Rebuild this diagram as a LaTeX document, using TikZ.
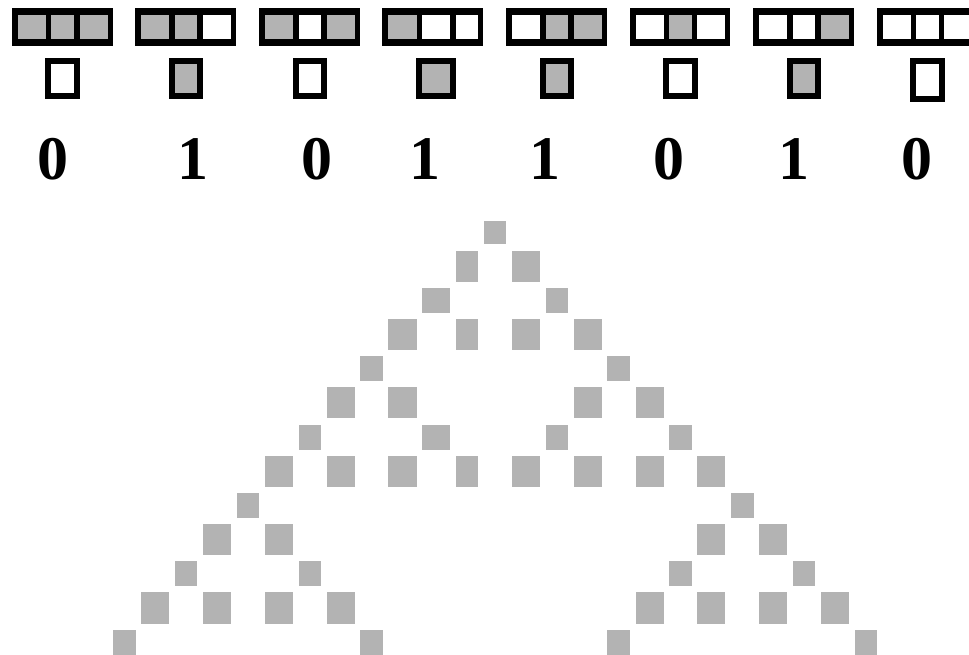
\documentclass[tikz,border=0pt]{standalone}
\usepackage{fontspec}
\setmainfont{Liberation Serif}
\definecolor{cellgray}{RGB}{179,179,179}
\begin{document}
\begin{tikzpicture}[x=1pt,y=-1pt,
  oncell/.style={fill=cellgray},
  offcell/.style={fill=white},
  cell1/.style={oncell},
  cell0/.style={offcell},
  frame/.style={fill=black},
  digit/.style={font=\bfseries\fontsize{62}{70}\selectfont, inner sep=0pt, anchor=base}]
\useasboundingbox (0,0) rectangle (969,655);
\fill[white] (0,0) rectangle (969,655);
% column edges for columns -15..15
\def\colL{{18,51,80,113,141,175,203,237,265,299,327,360,388,422,456,484,512,546,574,607,636,669,697,731,759,793,821,855,883,916,944}}
\def\colR{{46,74,108,136,169,197,231,259,293,321,355,383,417,450,478,506,540,568,602,630,664,692,725,754,787,815,849,877,911,939,972}}
\def\rowT{{221,251,288,319,356,387,425,456,493,524,561,592,630}}
\def\rowB{{244,282,313,350,381,418,450,487,518,555,586,624,655}}
% rule boxes: box index / left cell / middle cell / right cell / output / output bottom
\foreach \b/\p/\q/\s/\o/\ob in {0/1/1/1/0/99, 1/1/1/0/1/99, 2/1/0/1/0/99, 3/1/0/0/1/99, 4/0/1/1/1/99, 5/0/1/0/0/99, 6/0/0/1/1/99, 7/0/0/0/0/102}{
  \pgfmathtruncatemacro\ia{4*\b}
  \pgfmathtruncatemacro\ib{4*\b+1}
  \pgfmathtruncatemacro\ic{4*\b+2}
  \pgfmathsetmacro\la{\colL[\ia]}
  \pgfmathsetmacro\ra{\colR[\ia]}
  \pgfmathsetmacro\lb{\colL[\ib]}
  \pgfmathsetmacro\rb{\colR[\ib]}
  \pgfmathsetmacro\lc{\colL[\ic]}
  \pgfmathsetmacro\rc{\colR[\ic]}
  \fill[frame] (\la-6,8) rectangle (\rc+5,46);
  \fill[cell\p] (\la,15) rectangle (\ra,39);
  \fill[cell\q] (\lb,15) rectangle (\rb,39);
  \fill[cell\s] (\lc,15) rectangle (\rc,39);
  \fill[frame] (\lb-6,58) rectangle (\rb+6,\ob);
  \fill[cell\o] (\lb,64) rectangle (\rb,\ob-6);
}
% rule digits
\node[digit] (d1) at (53,180) {0};
\node[digit] (d2) at (193,180) {1};
\node[digit] (d3) at (317,180) {0};
\node[digit] (d4) at (424.5,180) {1};
\node[digit] (d5) at (545,180) {1};
\node[digit] (d6) at (668.5,180) {0};
\node[digit] (d7) at (793.5,180) {1};
\node[digit] (d8) at (916.5,180) {0};
% evolution from a single cell
\foreach \r/\cs in {0/{0}, 1/{-1,1}, 2/{-2,2}, 3/{-3,-1,1,3}, 4/{-4,4},
  5/{-5,-3,3,5}, 6/{-6,-2,2,6}, 7/{-7,-5,-3,-1,1,3,5,7}, 8/{-8,8},
  9/{-9,-7,7,9}, 10/{-10,-6,6,10}, 11/{-11,-9,-7,-5,5,7,9,11}, 12/{-12,-4,4,12}}{
  \pgfmathsetmacro\yt{\rowT[\r]}
  \pgfmathsetmacro\yb{\rowB[\r]}
  \foreach \c in \cs {
    \pgfmathtruncatemacro\ix{\c+15}
    \pgfmathsetmacro\xl{\colL[\ix]}
    \pgfmathsetmacro\xr{\colR[\ix]}
    \fill[oncell] (\xl,\yt) rectangle (\xr,\yb);
  }
}
\end{tikzpicture}
\end{document}
